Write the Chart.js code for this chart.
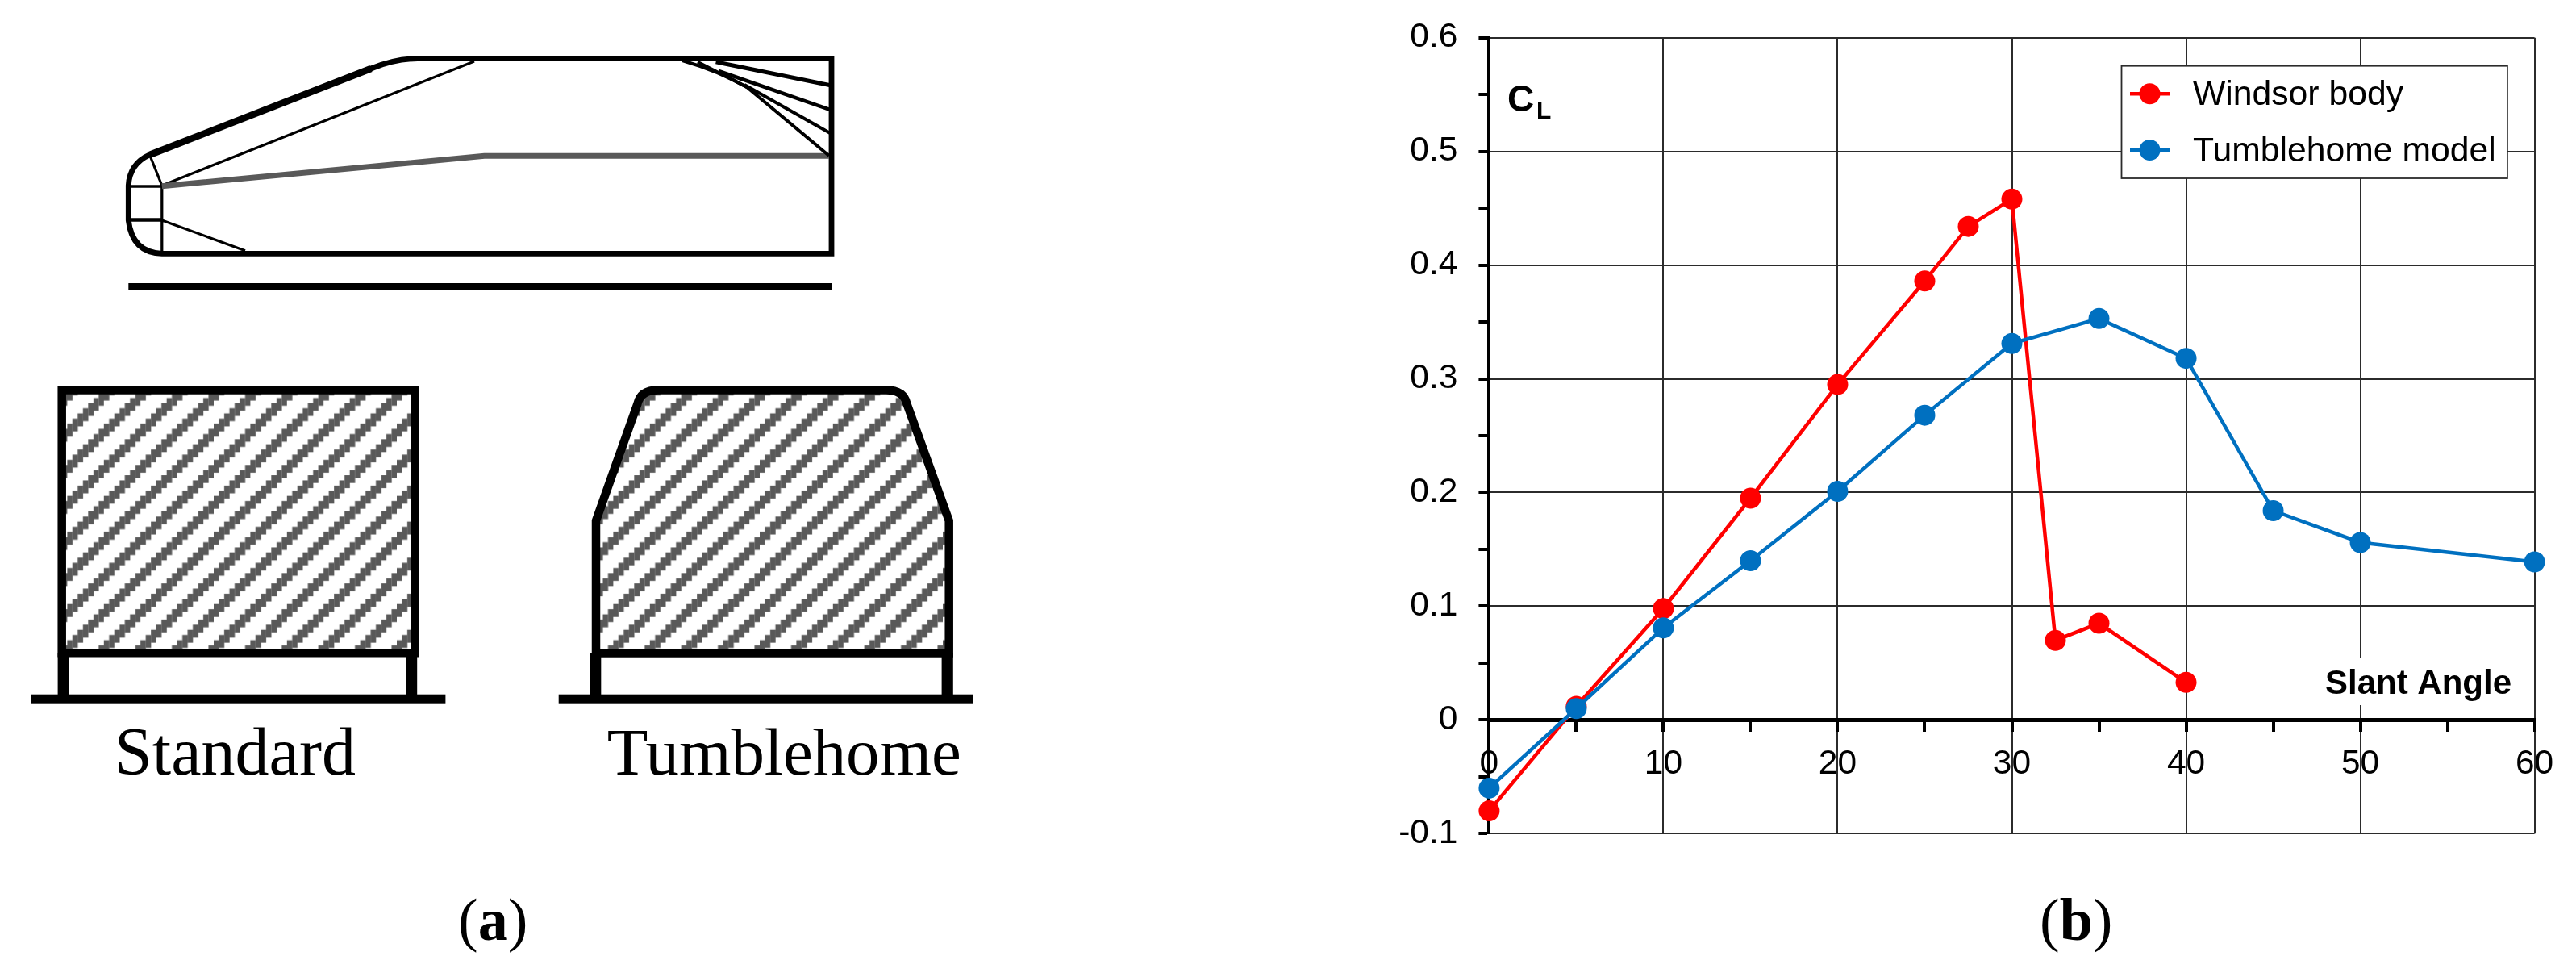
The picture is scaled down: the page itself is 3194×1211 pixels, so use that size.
<!DOCTYPE html>
<html>
<head>
<meta charset="utf-8">
<script src="https://cdn.jsdelivr.net/npm/chart.js@4/dist/chart.umd.min.js"></script>
<style>
  html, body { margin: 0; padding: 0; background: #fff; }
  #page { position: relative; width: 3194px; height: 1211px; overflow: hidden; }
  #sketch, #chart { position: absolute; left: 0; top: 0; }
  #sketch text { font-family: 'Liberation Serif', serif; fill: #000; }
</style>
</head>
<body>
<div id="page">
  <svg id="sketch" width="3194" height="1211" viewBox="0 0 3194 1211">
    <defs>
      <pattern id="hatchA" width="45.4" height="44.7" patternUnits="userSpaceOnUse" patternTransform="translate(38 0)"></pattern>
      <pattern id="hatchB" width="45.4" height="44.7" patternUnits="userSpaceOnUse" patternTransform="translate(34 0)"></pattern>
    </defs>

    <!-- side view -->
    <g fill="none" stroke="#000">
      <path stroke-width="6.8" d="M200.8 314.3 Q163.8 313 159.3 273 L159.3 230 Q160.6 203 186 191.7 L460 85 Q490 72.7 517.7 72.7 L1031 72.7 L1031 314.3 Z"/>
      <path stroke-width="8.5" d="M186 191.7 L460 85"/>
      <path stroke-width="3.2" d="M186 193 L200.8 230 L588 76 M200.8 230 L200.8 314 M200.8 273 L304 310.7"/>
      <path stroke-width="3.5" d="M159 231 L200.8 231"/>
      <path stroke-width="4.5" d="M159 272.5 L200.8 272.5"/>
      <path stroke="#595959" stroke-width="7" d="M200.8 230.7 L600.6 193.3 L1028 193.3"/>
      <path stroke-width="5" d="M887.6 76.7 L1031 106"/>
      <path stroke-width="4.5" d="M891 88 L1031 136.7"/>
      <path stroke-width="4" d="M923 105 L1031 166 M865 76.7 L926 108 L1028 193"/>
      <path stroke-width="4" d="M846 75 Q891 88 926 108"/>
    </g>
    <rect x="159.3" y="351" width="872" height="8" fill="#000"/>

    <!-- standard section -->
    <path d="M76.7 483.4 L514.6 483.4 L514.6 809.3 L76.7 809.3 Z" fill="url(#hatchA)" stroke="#000" stroke-width="10.5"/>
    <rect x="71.6" y="810" width="14.2" height="54" fill="#000"/>
    <rect x="503" y="810" width="14.2" height="54" fill="#000"/>
    <rect x="38" y="860.7" width="514.4" height="11" fill="#000"/>
    <text x="142" y="959.6" font-size="84" textLength="299" lengthAdjust="spacingAndGlyphs">Standard</text>

    <!-- tumblehome section -->
    <path d="M816 483.6 L1098.8 483.6 Q1120.5 483.6 1124.5 500.7 L1176.7 645.4 L1176.7 809.6 L739 809.6 L739 645.4 L790.4 500.7 Q794.3 483.6 816 483.6 Z" fill="url(#hatchB)" stroke="#000" stroke-width="10.5"/>
    <rect x="731" y="810" width="14.3" height="54" fill="#000"/>
    <rect x="1167.6" y="810" width="14.2" height="54" fill="#000"/>
    <rect x="692.7" y="860.7" width="514.3" height="11" fill="#000"/>
    <text x="752.8" y="959.6" font-size="83" textLength="439" lengthAdjust="spacingAndGlyphs">Tumblehome</text>

    <text x="568" y="1164.5" font-size="74">(<tspan font-weight="bold">a</tspan>)</text>
    <text x="2529" y="1164.5" font-size="74">(<tspan font-weight="bold">b</tspan>)</text>
  </svg>
  <canvas id="chart" width="3194" height="1211"></canvas>
</div>
<script>
const windsorAngles = [0, 5, 10, 15, 20, 25, 27.5, 30, 32.5, 35, 40]
const windsorCl = [-0.08, 0.012, 0.098, 0.195, 0.295, 0.386, 0.434, 0.458, 0.07, 0.085, 0.033]
const tumbleAngles = [0, 5, 10, 15, 20, 25, 30, 35, 40, 45, 50, 60]
const tumbleCl = [-0.06, 0.01, 0.081, 0.14, 0.201, 0.268, 0.331, 0.353, 0.318, 0.184, 0.156, 0.139]
const seriesNames = ['Windsor body', 'Tumblehome model']
const seriesColors = ['#ff0000', '#0070c0']

const fontFamily = "'Liberation Sans', Arial, sans-serif"
const gridColor = '#2b2b2b'

// stair-stepped hatch, the stripes in the source are jagged
function fillHatch(id) {
  const pattern = document.getElementById(id)
  const w = 45.4
  const h = 44.7
  const steps = 7
  let cells = ''
  for (const c of [0, 1, 2]) {
    for (let k = 0; k < steps; k++) {
      const y = c * h - (k + 0.5) * (h / steps) - 8
      cells += `<rect x="${k * w / steps}" y="${y}" width="${w / steps + 0.2}" height="16" fill="#595959"/>`
    }
  }
  pattern.innerHTML = cells
}
fillHatch('hatchA')
fillHatch('hatchB')

function toPoints(xs, ys) {
  return xs.map((x, i) => ({x: x, y: ys[i]}))
}

const notes = {
  id: 'notes',
  beforeDatasetsDraw(chart) {
    const c = chart.ctx
    c.save()
    // Slant Angle sits on a white patch that cuts the 50 gridline
    c.fillStyle = '#fff'
    c.fillRect(2880, 816, 236, 58)
    c.fillStyle = '#000'
    c.textAlign = 'left'
    c.textBaseline = 'alphabetic'
    c.font = `bold 42px ${fontFamily}`
    c.fillText('Slant Angle', 2883, 860)
    c.font = `bold 46px ${fontFamily}`
    c.fillText('C', 1869, 138)
    c.font = `bold 30px ${fontFamily}`
    c.fillText('L', 1905, 147)
    c.restore()
  },
  afterDatasetsDraw(chart) {
    const c = chart.ctx
    c.save()
    c.fillStyle = '#fff'
    c.strokeStyle = gridColor
    c.lineWidth = 1.8
    c.fillRect(2630.5, 81.7, 478.4, 139.3)
    c.strokeRect(2630.5, 81.7, 478.4, 139.3)
    const rows = [116.3, 186]
    const baselines = [130, 199.5]
    seriesNames.forEach((name, i) => {
      c.strokeStyle = seriesColors[i]
      c.fillStyle = seriesColors[i]
      c.lineWidth = 4.5
      c.beginPath()
      c.moveTo(2641, rows[i])
      c.lineTo(2691, rows[i])
      c.stroke()
      c.beginPath()
      c.arc(2665.5, rows[i], 13, 0, Math.PI * 2)
      c.fill()
      c.fillStyle = '#000'
      c.font = `42.7px ${fontFamily}`
      c.textBaseline = 'alphabetic'
      c.fillText(name, 2719, baselines[i])
    })
    c.restore()
  },
}

new Chart(document.getElementById('chart'), {
  type: 'line',
  data: {
    datasets: [{
      label: seriesNames[0],
      data: toPoints(windsorAngles, windsorCl),
      borderColor: seriesColors[0],
      backgroundColor: seriesColors[0],
      borderWidth: 4.5,
      pointRadius: 13,
      pointBorderWidth: 0,
      tension: 0,
      clip: false,
      order: 2,
    }, {
      label: seriesNames[1],
      data: toPoints(tumbleAngles, tumbleCl),
      borderColor: seriesColors[1],
      backgroundColor: seriesColors[1],
      borderWidth: 4.5,
      pointRadius: 13,
      pointBorderWidth: 0,
      tension: 0,
      clip: false,
      order: 1,
    }],
  },
  options: {
    responsive: false,
    animation: false,
    events: [],
    layout: {padding: {left: 1686.4, right: 51.4, top: 46.7, bottom: 177.7}},
    plugins: {legend: {display: false}, tooltip: {enabled: false}, title: {display: false}},
    scales: {
      x: {
        type: 'linear',
        position: {y: 0},
        min: 0,
        max: 60,
        grid: {
          color: (ctx) => (ctx.tick && ctx.tick.value % 10 === 0 ? gridColor : 'transparent'),
          lineWidth: 2,
          tickColor: '#000',
          tickLength: 12,
          tickWidth: 4,
        },
        border: {display: true, color: '#000', width: 5},
        ticks: {
          stepSize: 5,
          autoSkip: false,
          maxRotation: 0,
          padding: 17,
          color: '#000',
          font: {family: fontFamily, size: 42.5},
          callback: (v) => (v % 10 === 0 ? String(v) : ''),
        },
      },
      y: {
        type: 'linear',
        position: 'left',
        min: -0.1,
        max: 0.6,
        afterFit: (scale) => {
          scale.width = 160
          // labels must not push the plot top down
          scale.paddingTop = 0
          scale.paddingBottom = 0
        },
        grid: {
          color: (ctx) => (ctx.tick && Math.round(ctx.tick.value * 100) % 10 === 0 ? gridColor : 'transparent'),
          lineWidth: 2,
          tickColor: '#000',
          tickLength: 13,
          tickWidth: 4,
        },
        border: {display: true, color: '#000', width: 4},
        ticks: {
          stepSize: 0.05,
          autoSkip: false,
          padding: 26,
          color: '#000',
          font: {family: fontFamily, size: 42.5},
          callback: (v) => {
            const hundredths = Math.round(v * 100)
            return hundredths % 10 === 0 ? String(hundredths / 100) : ''
          },
        },
      },
    },
  },
  plugins: [notes],
})
</script>
</body>
</html>
